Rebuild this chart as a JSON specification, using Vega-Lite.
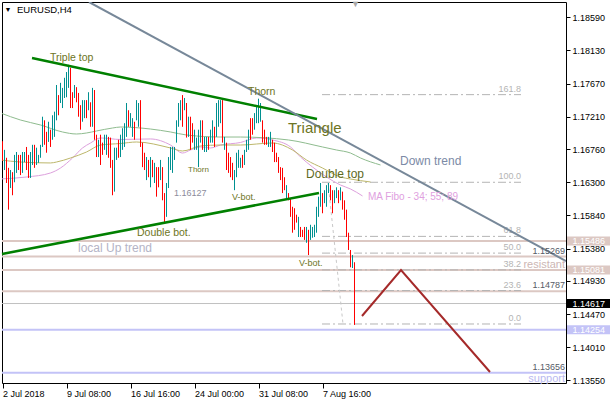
{
  "$schema": "https://vega.github.io/schema/vega-lite/v6.json",
  "autosize": "none",
  "padding": {"left": 2, "top": 2, "right": 44, "bottom": 17},
  "width": 564,
  "height": 381,
  "background": "white",
  "config": {
    "view": {"stroke": "#000000", "strokeWidth": 1},
    "text": {"font": "Liberation Sans"},
    "axis": {"labelFont": "Liberation Sans"}
  },
  "resolve": {
    "scale": {"color": "independent", "size": "independent"},
    "axis": {"x": "independent", "y": "independent"}
  },
  "datasets": {
    "candles": [
      {"i":0,"o":1.1685,"h":1.1687,"l":1.1660,"c":1.1662},
      {"i":1,"o":1.1655,"h":1.1675,"l":1.1647,"c":1.1670},
      {"i":2,"o":1.1662,"h":1.1664,"l":1.1629,"c":1.1635},
      {"i":3,"o":1.1640,"h":1.1650,"l":1.1592,"c":1.1612},
      {"i":4,"o":1.1625,"h":1.1647,"l":1.1622,"c":1.1640},
      {"i":5,"o":1.1640,"h":1.1644,"l":1.1612,"c":1.1620},
      {"i":6,"o":1.1632,"h":1.1668,"l":1.1630,"c":1.1660},
      {"i":7,"o":1.1650,"h":1.1672,"l":1.1643,"c":1.1668},
      {"i":8,"o":1.1665,"h":1.1668,"l":1.1647,"c":1.1650},
      {"i":9,"o":1.1664,"h":1.1668,"l":1.1640,"c":1.1645},
      {"i":10,"o":1.1647,"h":1.1672,"l":1.1643,"c":1.1670},
      {"i":11,"o":1.1660,"h":1.1672,"l":1.1658,"c":1.1670},
      {"i":12,"o":1.1675,"h":1.1679,"l":1.1647,"c":1.1650},
      {"i":13,"o":1.1660,"h":1.1668,"l":1.1636,"c":1.1640},
      {"i":14,"o":1.1640,"h":1.1672,"l":1.1636,"c":1.1668},
      {"i":15,"o":1.1660,"h":1.1682,"l":1.1654,"c":1.1678},
      {"i":16,"o":1.1678,"h":1.1682,"l":1.1650,"c":1.1655},
      {"i":17,"o":1.1656,"h":1.1678,"l":1.1654,"c":1.1675},
      {"i":18,"o":1.1658,"h":1.1668,"l":1.1657,"c":1.1667},
      {"i":19,"o":1.1665,"h":1.1682,"l":1.1664,"c":1.1680},
      {"i":20,"o":1.1680,"h":1.1721,"l":1.1679,"c":1.1715},
      {"i":21,"o":1.1712,"h":1.1716,"l":1.1682,"c":1.1688},
      {"i":22,"o":1.1695,"h":1.1700,"l":1.1671,"c":1.1675},
      {"i":23,"o":1.1688,"h":1.1714,"l":1.1686,"c":1.1710},
      {"i":24,"o":1.1700,"h":1.1703,"l":1.1679,"c":1.1685},
      {"i":25,"o":1.1690,"h":1.1723,"l":1.1689,"c":1.1720},
      {"i":26,"o":1.1700,"h":1.1728,"l":1.1693,"c":1.1725},
      {"i":27,"o":1.1720,"h":1.1765,"l":1.1716,"c":1.1760},
      {"i":28,"o":1.1748,"h":1.1751,"l":1.1723,"c":1.1728},
      {"i":29,"o":1.1742,"h":1.1768,"l":1.1740,"c":1.1765},
      {"i":30,"o":1.1740,"h":1.1761,"l":1.1733,"c":1.1758},
      {"i":31,"o":1.1750,"h":1.1775,"l":1.1747,"c":1.1772},
      {"i":32,"o":1.1752,"h":1.1783,"l":1.1748,"c":1.1780},
      {"i":33,"o":1.1765,"h":1.1793,"l":1.1761,"c":1.1788},
      {"i":34,"o":1.1786,"h":1.1789,"l":1.1733,"c":1.1738},
      {"i":35,"o":1.1752,"h":1.1755,"l":1.1733,"c":1.1736},
      {"i":36,"o":1.1748,"h":1.1765,"l":1.1747,"c":1.1762},
      {"i":37,"o":1.1760,"h":1.1762,"l":1.1741,"c":1.1744},
      {"i":38,"o":1.1750,"h":1.1754,"l":1.1721,"c":1.1725},
      {"i":39,"o":1.1733,"h":1.1737,"l":1.1703,"c":1.1706},
      {"i":40,"o":1.1716,"h":1.1744,"l":1.1714,"c":1.1740},
      {"i":41,"o":1.1722,"h":1.1744,"l":1.1719,"c":1.1740},
      {"i":42,"o":1.1740,"h":1.1744,"l":1.1719,"c":1.1722},
      {"i":43,"o":1.1732,"h":1.1755,"l":1.1730,"c":1.1752},
      {"i":44,"o":1.1738,"h":1.1741,"l":1.1707,"c":1.1710},
      {"i":45,"o":1.1710,"h":1.1761,"l":1.1707,"c":1.1756},
      {"i":46,"o":1.1755,"h":1.1758,"l":1.1689,"c":1.1692},
      {"i":47,"o":1.1693,"h":1.1696,"l":1.1665,"c":1.1668},
      {"i":48,"o":1.1667,"h":1.1689,"l":1.1665,"c":1.1686},
      {"i":49,"o":1.1690,"h":1.1696,"l":1.1654,"c":1.1658},
      {"i":50,"o":1.1682,"h":1.1685,"l":1.1668,"c":1.1670},
      {"i":51,"o":1.1677,"h":1.1696,"l":1.1675,"c":1.1693},
      {"i":52,"o":1.1670,"h":1.1696,"l":1.1668,"c":1.1692},
      {"i":53,"o":1.1690,"h":1.1693,"l":1.1664,"c":1.1667},
      {"i":54,"o":1.1688,"h":1.1692,"l":1.1650,"c":1.1653},
      {"i":55,"o":1.1655,"h":1.1661,"l":1.1612,"c":1.1616},
      {"i":56,"o":1.1620,"h":1.1678,"l":1.1617,"c":1.1672},
      {"i":57,"o":1.1663,"h":1.1678,"l":1.1661,"c":1.1675},
      {"i":58,"o":1.1685,"h":1.1689,"l":1.1664,"c":1.1667},
      {"i":59,"o":1.1667,"h":1.1696,"l":1.1665,"c":1.1692},
      {"i":60,"o":1.1678,"h":1.1705,"l":1.1675,"c":1.1702},
      {"i":61,"o":1.1682,"h":1.1712,"l":1.1679,"c":1.1708},
      {"i":62,"o":1.1695,"h":1.1740,"l":1.1693,"c":1.1735},
      {"i":63,"o":1.1728,"h":1.1730,"l":1.1707,"c":1.1710},
      {"i":64,"o":1.1709,"h":1.1726,"l":1.1707,"c":1.1723},
      {"i":65,"o":1.1696,"h":1.1719,"l":1.1693,"c":1.1716},
      {"i":66,"o":1.1712,"h":1.1714,"l":1.1689,"c":1.1692},
      {"i":67,"o":1.1718,"h":1.1744,"l":1.1716,"c":1.1740},
      {"i":68,"o":1.1710,"h":1.1740,"l":1.1707,"c":1.1736},
      {"i":69,"o":1.1740,"h":1.1744,"l":1.1679,"c":1.1684},
      {"i":70,"o":1.1682,"h":1.1685,"l":1.1651,"c":1.1655},
      {"i":71,"o":1.1668,"h":1.1671,"l":1.1647,"c":1.1650},
      {"i":72,"o":1.1636,"h":1.1665,"l":1.1633,"c":1.1662},
      {"i":73,"o":1.1658,"h":1.1661,"l":1.1637,"c":1.1640},
      {"i":74,"o":1.1626,"h":1.1665,"l":1.1623,"c":1.1662},
      {"i":75,"o":1.1658,"h":1.1661,"l":1.1637,"c":1.1640},
      {"i":76,"o":1.1632,"h":1.1657,"l":1.1629,"c":1.1654},
      {"i":77,"o":1.1648,"h":1.1651,"l":1.1610,"c":1.1614},
      {"i":78,"o":1.1648,"h":1.1651,"l":1.1623,"c":1.1627},
      {"i":79,"o":1.1636,"h":1.1661,"l":1.1633,"c":1.1658},
      {"i":80,"o":1.1648,"h":1.1651,"l":1.1605,"c":1.1608},
      {"i":81,"o":1.1610,"h":1.1615,"l":1.1573,"c":1.1577},
      {"i":82,"o":1.1585,"h":1.1629,"l":1.1582,"c":1.1625},
      {"i":83,"o":1.1625,"h":1.1665,"l":1.1622,"c":1.1661},
      {"i":84,"o":1.1650,"h":1.1679,"l":1.1647,"c":1.1675},
      {"i":85,"o":1.1646,"h":1.1679,"l":1.1643,"c":1.1676},
      {"i":86,"o":1.1663,"h":1.1679,"l":1.1661,"c":1.1677},
      {"i":87,"o":1.1688,"h":1.1716,"l":1.1685,"c":1.1712},
      {"i":88,"o":1.1710,"h":1.1740,"l":1.1707,"c":1.1736},
      {"i":89,"o":1.1718,"h":1.1744,"l":1.1716,"c":1.1741},
      {"i":90,"o":1.1745,"h":1.1751,"l":1.1707,"c":1.1710},
      {"i":91,"o":1.1732,"h":1.1747,"l":1.1730,"c":1.1745},
      {"i":92,"o":1.1736,"h":1.1740,"l":1.1692,"c":1.1695},
      {"i":93,"o":1.1696,"h":1.1721,"l":1.1693,"c":1.1718},
      {"i":94,"o":1.1718,"h":1.1721,"l":1.1675,"c":1.1678},
      {"i":95,"o":1.1709,"h":1.1712,"l":1.1685,"c":1.1688},
      {"i":96,"o":1.1678,"h":1.1703,"l":1.1675,"c":1.1700},
      {"i":97,"o":1.1677,"h":1.1692,"l":1.1675,"c":1.1690},
      {"i":98,"o":1.1655,"h":1.1703,"l":1.1651,"c":1.1700},
      {"i":99,"o":1.1688,"h":1.1716,"l":1.1685,"c":1.1713},
      {"i":100,"o":1.1713,"h":1.1716,"l":1.1675,"c":1.1678},
      {"i":101,"o":1.1675,"h":1.1693,"l":1.1672,"c":1.1690},
      {"i":102,"o":1.1674,"h":1.1693,"l":1.1672,"c":1.1691},
      {"i":103,"o":1.1691,"h":1.1693,"l":1.1675,"c":1.1677},
      {"i":104,"o":1.1687,"h":1.1703,"l":1.1685,"c":1.1701},
      {"i":105,"o":1.1688,"h":1.1716,"l":1.1685,"c":1.1713},
      {"i":106,"o":1.1704,"h":1.1707,"l":1.1679,"c":1.1682},
      {"i":107,"o":1.1696,"h":1.1740,"l":1.1693,"c":1.1736},
      {"i":108,"o":1.1710,"h":1.1744,"l":1.1707,"c":1.1741},
      {"i":109,"o":1.1715,"h":1.1744,"l":1.1712,"c":1.1741},
      {"i":110,"o":1.1741,"h":1.1744,"l":1.1685,"c":1.1688},
      {"i":111,"o":1.1677,"h":1.1693,"l":1.1675,"c":1.1691},
      {"i":112,"o":1.1682,"h":1.1685,"l":1.1647,"c":1.1650},
      {"i":113,"o":1.1668,"h":1.1671,"l":1.1643,"c":1.1646},
      {"i":114,"o":1.1662,"h":1.1665,"l":1.1637,"c":1.1640},
      {"i":115,"o":1.1654,"h":1.1657,"l":1.1633,"c":1.1636},
      {"i":116,"o":1.1622,"h":1.1647,"l":1.1619,"c":1.1644},
      {"i":117,"o":1.1640,"h":1.1671,"l":1.1637,"c":1.1668},
      {"i":118,"o":1.1653,"h":1.1675,"l":1.1650,"c":1.1672},
      {"i":119,"o":1.1652,"h":1.1664,"l":1.1650,"c":1.1662},
      {"i":120,"o":1.1666,"h":1.1668,"l":1.1650,"c":1.1652},
      {"i":121,"o":1.1656,"h":1.1675,"l":1.1654,"c":1.1672},
      {"i":122,"o":1.1674,"h":1.1689,"l":1.1672,"c":1.1687},
      {"i":123,"o":1.1678,"h":1.1703,"l":1.1675,"c":1.1700},
      {"i":124,"o":1.1716,"h":1.1719,"l":1.1689,"c":1.1692},
      {"i":125,"o":1.1716,"h":1.1719,"l":1.1696,"c":1.1699},
      {"i":126,"o":1.1705,"h":1.1726,"l":1.1703,"c":1.1723},
      {"i":127,"o":1.1714,"h":1.1735,"l":1.1712,"c":1.1732},
      {"i":128,"o":1.1715,"h":1.1746,"l":1.1712,"c":1.1742},
      {"i":129,"o":1.1716,"h":1.1740,"l":1.1714,"c":1.1737},
      {"i":130,"o":1.1713,"h":1.1716,"l":1.1685,"c":1.1688},
      {"i":131,"o":1.1700,"h":1.1703,"l":1.1682,"c":1.1685},
      {"i":132,"o":1.1691,"h":1.1693,"l":1.1682,"c":1.1684},
      {"i":133,"o":1.1681,"h":1.1693,"l":1.1679,"c":1.1691},
      {"i":134,"o":1.1682,"h":1.1700,"l":1.1679,"c":1.1697},
      {"i":135,"o":1.1687,"h":1.1689,"l":1.1672,"c":1.1674},
      {"i":136,"o":1.1682,"h":1.1685,"l":1.1658,"c":1.1661},
      {"i":137,"o":1.1669,"h":1.1671,"l":1.1658,"c":1.1660},
      {"i":138,"o":1.1662,"h":1.1665,"l":1.1643,"c":1.1646},
      {"i":139,"o":1.1649,"h":1.1651,"l":1.1633,"c":1.1636},
      {"i":140,"o":1.1647,"h":1.1650,"l":1.1615,"c":1.1618},
      {"i":141,"o":1.1635,"h":1.1637,"l":1.1619,"c":1.1622},
      {"i":142,"o":1.1610,"h":1.1626,"l":1.1608,"c":1.1624},
      {"i":143,"o":1.1613,"h":1.1615,"l":1.1605,"c":1.1607},
      {"i":144,"o":1.1606,"h":1.1608,"l":1.1582,"c":1.1585},
      {"i":145,"o":1.1593,"h":1.1596,"l":1.1560,"c":1.1563},
      {"i":146,"o":1.1591,"h":1.1594,"l":1.1564,"c":1.1567},
      {"i":147,"o":1.1583,"h":1.1585,"l":1.1574,"c":1.1576},
      {"i":148,"o":1.1557,"h":1.1582,"l":1.1554,"c":1.1579},
      {"i":149,"o":1.1566,"h":1.1568,"l":1.1554,"c":1.1556},
      {"i":150,"o":1.1562,"h":1.1564,"l":1.1554,"c":1.1556},
      {"i":151,"o":1.1566,"h":1.1568,"l":1.1550,"c":1.1552},
      {"i":152,"o":1.1549,"h":1.1568,"l":1.1546,"c":1.1565},
      {"i":153,"o":1.1561,"h":1.1564,"l":1.1529,"c":1.1540},
      {"i":154,"o":1.1552,"h":1.1571,"l":1.1550,"c":1.1568},
      {"i":155,"o":1.1555,"h":1.1568,"l":1.1553,"c":1.1566},
      {"i":156,"o":1.1556,"h":1.1571,"l":1.1554,"c":1.1569},
      {"i":157,"o":1.1563,"h":1.1596,"l":1.1560,"c":1.1592},
      {"i":158,"o":1.1585,"h":1.1610,"l":1.1582,"c":1.1607},
      {"i":159,"o":1.1599,"h":1.1629,"l":1.1596,"c":1.1625},
      {"i":160,"o":1.1612,"h":1.1615,"l":1.1587,"c":1.1590},
      {"i":161,"o":1.1603,"h":1.1619,"l":1.1601,"c":1.1617},
      {"i":162,"o":1.1599,"h":1.1626,"l":1.1596,"c":1.1623},
      {"i":163,"o":1.1617,"h":1.1629,"l":1.1615,"c":1.1627},
      {"i":164,"o":1.1624,"h":1.1626,"l":1.1605,"c":1.1607},
      {"i":165,"o":1.1617,"h":1.1619,"l":1.1587,"c":1.1590},
      {"i":166,"o":1.1603,"h":1.1619,"l":1.1601,"c":1.1617},
      {"i":167,"o":1.1610,"h":1.1623,"l":1.1608,"c":1.1621},
      {"i":168,"o":1.1617,"h":1.1619,"l":1.1601,"c":1.1603},
      {"i":169,"o":1.1607,"h":1.1623,"l":1.1605,"c":1.1621},
      {"i":170,"o":1.1614,"h":1.1617,"l":1.1592,"c":1.1594},
      {"i":171,"o":1.1603,"h":1.1605,"l":1.1578,"c":1.1580},
      {"i":172,"o":1.1589,"h":1.1592,"l":1.1554,"c":1.1557},
      {"i":173,"o":1.1557,"h":1.1560,"l":1.1536,"c":1.1539},
      {"i":174,"o":1.1533,"h":1.1536,"l":1.1512,"c":1.1515},
      {"i":175,"o":1.1513,"h":1.1529,"l":1.1511,"c":1.1526},
      {"i":176,"o":1.1517,"h":1.1519,"l":1.1432,"c":1.14617}
    ],
    "ma": [
      {"ma":"34","i":-1,"p":1.16346},{"ma":"34","i":12,"p":1.16373},{"ma":"34","i":24,"p":1.16429},{"ma":"34","i":29,"p":1.16498},
      {"ma":"34","i":35,"p":1.16637},{"ma":"34","i":40,"p":1.16776},{"ma":"34","i":44,"p":1.16845},{"ma":"34","i":49,"p":1.16915},
      {"ma":"34","i":59,"p":1.16894},{"ma":"34","i":74,"p":1.16901},{"ma":"34","i":84,"p":1.16817},{"ma":"34","i":90,"p":1.16706},
      {"ma":"34","i":94,"p":1.16748},{"ma":"34","i":99,"p":1.16790},{"ma":"34","i":104,"p":1.16776},{"ma":"34","i":109,"p":1.16817},
      {"ma":"34","i":119,"p":1.16852},{"ma":"34","i":127,"p":1.16915},{"ma":"34","i":135,"p":1.16887},{"ma":"34","i":144,"p":1.16790},
      {"ma":"34","i":149,"p":1.16651},{"ma":"34","i":155,"p":1.16512},{"ma":"34","i":162,"p":1.16373},{"ma":"34","i":169,"p":1.16262},
      {"ma":"34","i":174,"p":1.16207},{"ma":"34","i":180,"p":1.16110},
      {"ma":"55","i":-1,"p":1.16609},{"ma":"55","i":9,"p":1.16581},{"ma":"55","i":24,"p":1.16568},{"ma":"55","i":27,"p":1.16581},
      {"ma":"55","i":34,"p":1.16637},{"ma":"55","i":42,"p":1.16720},{"ma":"55","i":49,"p":1.16817},{"ma":"55","i":59,"p":1.16838},
      {"ma":"55","i":67,"p":1.16859},{"ma":"55","i":84,"p":1.16776},{"ma":"55","i":90,"p":1.16734},{"ma":"55","i":99,"p":1.16804},
      {"ma":"55","i":109,"p":1.16817},{"ma":"55","i":119,"p":1.16817},{"ma":"55","i":135,"p":1.16845},{"ma":"55","i":145,"p":1.16748},
      {"ma":"55","i":152,"p":1.16609},{"ma":"55","i":160,"p":1.16498},{"ma":"55","i":169,"p":1.16373},{"ma":"55","i":174,"p":1.16345},
      {"ma":"55","i":184,"p":1.16304},
      {"ma":"89","i":-1,"p":1.17262},{"ma":"89","i":9,"p":1.17164},{"ma":"89","i":19,"p":1.17095},{"ma":"89","i":30,"p":1.16998},
      {"ma":"89","i":37,"p":1.16970},{"ma":"89","i":42,"p":1.16984},{"ma":"89","i":47,"p":1.17012},{"ma":"89","i":55,"p":1.17053},
      {"ma":"89","i":59,"p":1.17067},{"ma":"89","i":74,"p":1.17039},{"ma":"89","i":84,"p":1.16998},{"ma":"89","i":92,"p":1.16956},
      {"ma":"89","i":109,"p":1.16928},{"ma":"89","i":119,"p":1.16928},{"ma":"89","i":143,"p":1.16887},{"ma":"89","i":160,"p":1.16790},
      {"ma":"89","i":167,"p":1.16748},{"ma":"89","i":174,"p":1.16706},{"ma":"89","i":179,"p":1.16637},{"ma":"89","i":189,"p":1.16540}
    ],
    "triangle": [
      {"id":"top","i":14.75,"p":1.18025},{"id":"top","i":157.25,"p":1.17178},
      {"id":"bottom","i":-0.25,"p":1.15305},{"id":"bottom","i":158.25,"p":1.16151}
    ],
    "downtrend": [{"i":43.25,"p":1.18802},{"i":281.75,"p":1.15207}],
    "zigzag": [{"i":179.75,"p":1.14444},{"i":199.25,"p":1.15082},{"i":243.75,"p":1.13667}],
    "fibdiag": [{"i":162.75,"p":1.163},{"i":170.25,"p":1.14333}],
    "fib": [
      {"lv":"161.8","p":1.17516},{"lv":"100.0","p":1.163},{"lv":"61.8","p":1.15549},{"lv":"50.0","p":1.15317},
      {"lv":"38.2","p":1.15084},{"lv":"23.6","p":1.14797},{"lv":"0.0","p":1.14333}
    ],
    "resLines": [{"p":1.15486},{"p":1.15269},{"p":1.15081},{"p":1.14787}],
    "supLines": [{"p":1.14254},{"p":1.13656}],
    "bid": [{"p":1.14617}],
    "tags": [
      {"p":1.15486,"t":"1.15486","kind":"res"},
      {"p":1.15081,"t":"1.15081","kind":"res"},
      {"p":1.14617,"t":"1.14617","kind":"bid"},
      {"p":1.14254,"t":"1.14254","kind":"sup"}
    ],
    "lineValues": [{"p":1.15269,"t":"1.15269"},{"p":1.14787,"t":"1.14787"},{"p":1.13656,"t":"1.13656"}],
    "notesMid": [
      {"i":23.75,"p":1.18025,"t":"Triple top"},
      {"i":122.75,"p":1.17553,"t":"Thorn"},
      {"i":67.25,"p":1.15596,"t":"Double bot."}
    ],
    "notesSmall": [
      {"i":114.75,"p":1.16096,"t":"V-bot."},
      {"i":148.25,"p":1.1518,"t":"V-bot."}
    ]
  },
  "layer": [
    {
      "data": {"name": "resLines"},
      "mark": {"type": "rule", "color": "#dcc8c3", "strokeWidth": 2},
      "encoding": {"y": {"field": "p", "type": "quantitative", "scale": {"domain": [1.13514, 1.18802], "nice": false, "zero": false}, "axis": null}}
    },
    {
      "data": {"name": "supLines"},
      "mark": {"type": "rule", "color": "#c3c3f7", "strokeWidth": 2},
      "encoding": {"y": {"field": "p", "type": "quantitative", "scale": {"domain": [1.13514, 1.18802], "nice": false, "zero": false}, "axis": null}}
    },
    {
      "data": {"name": "bid"},
      "mark": {"type": "rule", "color": "#c0c0c0", "strokeWidth": 1},
      "encoding": {"y": {"field": "p", "type": "quantitative", "scale": {"domain": [1.13514, 1.18802], "nice": false, "zero": false}, "axis": null}}
    },
    {
      "data": {"name": "fib"},
      "mark": {"type": "rule", "color": "#b4b4b4", "strokeWidth": 1, "strokeDash": [8, 3, 2, 3]},
      "encoding": {
        "x": {"datum": 159.75, "type": "quantitative", "scale": {"domain": [-0.25, 281.75], "nice": false, "zero": false}, "axis": null},
        "x2": {"datum": 259.25},
        "y": {"field": "p", "type": "quantitative", "scale": {"domain": [1.13514, 1.18802], "nice": false, "zero": false}, "axis": null}
      }
    },
    {
      "data": {"name": "fib"},
      "mark": {"type": "text", "color": "#b4b4b4", "fontSize": 9, "align": "right", "baseline": "bottom", "dy": -1},
      "encoding": {
        "x": {"datum": 259.25, "type": "quantitative", "scale": {"domain": [-0.25, 281.75], "nice": false, "zero": false}, "axis": null},
        "y": {"field": "p", "type": "quantitative", "scale": {"domain": [1.13514, 1.18802], "nice": false, "zero": false}, "axis": null},
        "text": {"field": "lv"}
      }
    },
    {
      "data": {"name": "fibdiag"},
      "mark": {"type": "line", "color": "#c8c8c8", "strokeWidth": 1, "strokeDash": [3, 3]},
      "encoding": {
        "x": {"field": "i", "type": "quantitative", "scale": {"domain": [-0.25, 281.75], "nice": false, "zero": false}, "axis": null},
        "y": {"field": "p", "type": "quantitative", "scale": {"domain": [1.13514, 1.18802], "nice": false, "zero": false}, "axis": null}
      }
    },
    {
      "data": {"name": "ma"},
      "mark": {"type": "line", "strokeWidth": 1, "interpolate": "monotone", "clip": true},
      "encoding": {
        "x": {"field": "i", "type": "quantitative", "scale": {"domain": [-0.25, 281.75], "nice": false, "zero": false}, "axis": null},
        "y": {"field": "p", "type": "quantitative", "scale": {"domain": [1.13514, 1.18802], "nice": false, "zero": false}, "axis": null},
        "color": {"field": "ma", "type": "nominal", "scale": {"domain": ["34", "55", "89"], "range": ["#dda0dd", "#bdb76b", "#8fbc8f"]}, "legend": null}
      }
    },
    {
      "data": {"name": "candles"},
      "mark": {"type": "rule", "strokeWidth": 1},
      "encoding": {
        "x": {
          "field": "i", "type": "quantitative",
          "scale": {"domain": [-0.25, 281.75], "nice": false, "zero": false},
          "axis": {
            "values": [0, 32, 64, 96, 128, 160],
            "labelExpr": "datum.value == 0 ? '2 Jul 2018' : datum.value == 32 ? '9 Jul 08:00' : datum.value == 64 ? '16 Jul 16:00' : datum.value == 96 ? '24 Jul 00:00' : datum.value == 128 ? '31 Jul 08:00' : '7 Aug 16:00'",
            "labelAlign": "left", "labelBaseline": "top", "labelPadding": 1, "labelDx": 0,
            "labelFontSize": 9, "labelColor": "#000000", "labelFlush": false, "labelOverlap": false,
            "tickSize": 5, "tickColor": "#000000", "domain": false, "grid": false, "title": null
          }
        },
        "y": {
          "field": "l", "type": "quantitative",
          "scale": {"domain": [1.13514, 1.18802], "nice": false, "zero": false},
          "axis": {
            "orient": "right",
            "values": [1.1859, 1.1813, 1.1767, 1.1721, 1.1676, 1.163, 1.1584, 1.1538, 1.1493, 1.1447, 1.1401, 1.1355],
            "format": ".5f", "labelFontSize": 9, "labelColor": "#000000", "labelPadding": 2,
            "tickSize": 4, "tickColor": "#000000", "domain": false, "grid": false, "title": null,
            "labelOverlap": false, "labelFlush": false
          }
        },
        "y2": {"field": "h"},
        "color": {"condition": {"test": "datum.c >= datum.o", "value": "#009090"}, "value": "#ff0000"}
      }
    },
    {
      "data": {"name": "triangle"},
      "mark": {"type": "line", "color": "#008000", "strokeWidth": 2.5},
      "encoding": {
        "x": {"field": "i", "type": "quantitative", "scale": {"domain": [-0.25, 281.75], "nice": false, "zero": false}, "axis": null},
        "y": {"field": "p", "type": "quantitative", "scale": {"domain": [1.13514, 1.18802], "nice": false, "zero": false}, "axis": null},
        "detail": {"field": "id"}
      }
    },
    {
      "data": {"name": "downtrend"},
      "mark": {"type": "line", "color": "#778899", "strokeWidth": 2, "clip": true},
      "encoding": {
        "x": {"field": "i", "type": "quantitative", "scale": {"domain": [-0.25, 281.75], "nice": false, "zero": false}, "axis": null},
        "y": {"field": "p", "type": "quantitative", "scale": {"domain": [1.13514, 1.18802], "nice": false, "zero": false}, "axis": null}
      }
    },
    {
      "data": {"name": "zigzag"},
      "mark": {"type": "line", "color": "#a52a2a", "strokeWidth": 2},
      "encoding": {
        "x": {"field": "i", "type": "quantitative", "scale": {"domain": [-0.25, 281.75], "nice": false, "zero": false}, "axis": null},
        "y": {"field": "p", "type": "quantitative", "scale": {"domain": [1.13514, 1.18802], "nice": false, "zero": false}, "axis": null}
      }
    },
    {
      "data": {"name": "lineValues"},
      "mark": {"type": "text", "color": "#555a66", "fontSize": 9, "align": "right", "baseline": "bottom", "dy": -1},
      "encoding": {
        "x": {"datum": 281.25, "type": "quantitative", "scale": {"domain": [-0.25, 281.75], "nice": false, "zero": false}, "axis": null},
        "y": {"field": "p", "type": "quantitative", "scale": {"domain": [1.13514, 1.18802], "nice": false, "zero": false}, "axis": null},
        "text": {"field": "t"}
      }
    },
    {
      "data": {"values": [{"p": 1.15081, "t": "resistant"}]},
      "mark": {"type": "text", "color": "#cdb6b3", "fontSize": 11, "align": "right", "baseline": "bottom", "dy": 0},
      "encoding": {
        "x": {"datum": 281.25, "type": "quantitative", "scale": {"domain": [-0.25, 281.75], "nice": false, "zero": false}, "axis": null},
        "y": {"field": "p", "type": "quantitative", "scale": {"domain": [1.13514, 1.18802], "nice": false, "zero": false}, "axis": null},
        "text": {"field": "t"}
      }
    },
    {
      "data": {"values": [{"p": 1.13656, "t": "support"}]},
      "mark": {"type": "text", "color": "#b9b9f0", "fontSize": 11, "align": "right", "baseline": "top", "dy": 0, "clip": false},
      "encoding": {
        "x": {"datum": 281.25, "type": "quantitative", "scale": {"domain": [-0.25, 281.75], "nice": false, "zero": false}, "axis": null},
        "y": {"field": "p", "type": "quantitative", "scale": {"domain": [1.13514, 1.18802], "nice": false, "zero": false}, "axis": null},
        "text": {"field": "t"}
      }
    },
    {
      "data": {"name": "tags"},
      "mark": {"type": "rule", "strokeWidth": 9, "strokeCap": "butt", "clip": false},
      "encoding": {
        "x": {"datum": 282.25, "type": "quantitative", "scale": {"domain": [-0.25, 281.75], "nice": false, "zero": false}, "axis": null},
        "x2": {"datum": 303.75},
        "y": {"field": "p", "type": "quantitative", "scale": {"domain": [1.13514, 1.18802], "nice": false, "zero": false}, "axis": null},
        "color": {"field": "kind", "type": "nominal", "scale": {"domain": ["res", "bid", "sup"], "range": ["#dcc8c3", "#000000", "#c3c3f7"]}, "legend": null}
      }
    },
    {
      "data": {"name": "tags"},
      "mark": {"type": "text", "color": "#ffffff", "fontSize": 9, "align": "left", "baseline": "middle", "clip": false},
      "encoding": {
        "x": {"datum": 285, "type": "quantitative", "scale": {"domain": [-0.25, 281.75], "nice": false, "zero": false}, "axis": null},
        "y": {"field": "p", "type": "quantitative", "scale": {"domain": [1.13514, 1.18802], "nice": false, "zero": false}, "axis": null},
        "text": {"field": "t"}
      }
    },
    {
      "data": {"name": "notesMid"},
      "mark": {"type": "text", "color": "#6e7524", "fontSize": 10.5, "align": "left", "baseline": "middle"},
      "encoding": {
        "x": {"field": "i", "type": "quantitative", "scale": {"domain": [-0.25, 281.75], "nice": false, "zero": false}, "axis": null},
        "y": {"field": "p", "type": "quantitative", "scale": {"domain": [1.13514, 1.18802], "nice": false, "zero": false}, "axis": null},
        "text": {"field": "t"}
      }
    },
    {
      "data": {"name": "notesSmall"},
      "mark": {"type": "text", "color": "#6e7524", "fontSize": 9, "align": "left", "baseline": "middle"},
      "encoding": {
        "x": {"field": "i", "type": "quantitative", "scale": {"domain": [-0.25, 281.75], "nice": false, "zero": false}, "axis": null},
        "y": {"field": "p", "type": "quantitative", "scale": {"domain": [1.13514, 1.18802], "nice": false, "zero": false}, "axis": null},
        "text": {"field": "t"}
      }
    },
    {
      "data": {"values": [{"i": 92.75, "p": 1.1647, "t": "Thorn"}]},
      "mark": {"type": "text", "color": "#6e7524", "fontSize": 8, "align": "left", "baseline": "middle"},
      "encoding": {
        "x": {"field": "i", "type": "quantitative", "scale": {"domain": [-0.25, 281.75], "nice": false, "zero": false}, "axis": null},
        "y": {"field": "p", "type": "quantitative", "scale": {"domain": [1.13514, 1.18802], "nice": false, "zero": false}, "axis": null},
        "text": {"field": "t"}
      }
    },
    {
      "data": {"values": [{"i": 151.75, "p": 1.16415, "t": "Double top"}]},
      "mark": {"type": "text", "color": "#5e6a1e", "fontSize": 12, "align": "left", "baseline": "middle"},
      "encoding": {
        "x": {"field": "i", "type": "quantitative", "scale": {"domain": [-0.25, 281.75], "nice": false, "zero": false}, "axis": null},
        "y": {"field": "p", "type": "quantitative", "scale": {"domain": [1.13514, 1.18802], "nice": false, "zero": false}, "axis": null},
        "text": {"field": "t"}
      }
    },
    {
      "data": {"values": [{"i": 142.75, "p": 1.17053, "t": "Triangle"}]},
      "mark": {"type": "text", "color": "#6e7524", "fontSize": 15, "align": "left", "baseline": "middle"},
      "encoding": {
        "x": {"field": "i", "type": "quantitative", "scale": {"domain": [-0.25, 281.75], "nice": false, "zero": false}, "axis": null},
        "y": {"field": "p", "type": "quantitative", "scale": {"domain": [1.13514, 1.18802], "nice": false, "zero": false}, "axis": null},
        "text": {"field": "t"}
      }
    },
    {
      "data": {"values": [{"i": 37.75, "p": 1.15388, "t": "local Up trend"}]},
      "mark": {"type": "text", "color": "#b4b4c6", "fontSize": 12, "align": "left", "baseline": "middle"},
      "encoding": {
        "x": {"field": "i", "type": "quantitative", "scale": {"domain": [-0.25, 281.75], "nice": false, "zero": false}, "axis": null},
        "y": {"field": "p", "type": "quantitative", "scale": {"domain": [1.13514, 1.18802], "nice": false, "zero": false}, "axis": null},
        "text": {"field": "t"}
      }
    },
    {
      "data": {"values": [{"i": 198.75, "p": 1.16595, "t": "Down trend"}]},
      "mark": {"type": "text", "color": "#7c8aa6", "fontSize": 12, "align": "left", "baseline": "middle"},
      "encoding": {
        "x": {"field": "i", "type": "quantitative", "scale": {"domain": [-0.25, 281.75], "nice": false, "zero": false}, "axis": null},
        "y": {"field": "p", "type": "quantitative", "scale": {"domain": [1.13514, 1.18802], "nice": false, "zero": false}, "axis": null},
        "text": {"field": "t"}
      }
    },
    {
      "data": {"values": [{"i": 182.75, "p": 1.16096, "t": "MA Fibo - 34; 55; 89"}]},
      "mark": {"type": "text", "color": "#e0a0e0", "fontSize": 10, "align": "left", "baseline": "middle"},
      "encoding": {
        "x": {"field": "i", "type": "quantitative", "scale": {"domain": [-0.25, 281.75], "nice": false, "zero": false}, "axis": null},
        "y": {"field": "p", "type": "quantitative", "scale": {"domain": [1.13514, 1.18802], "nice": false, "zero": false}, "axis": null},
        "text": {"field": "t"}
      }
    },
    {
      "data": {"values": [{"i": 85.75, "p": 1.16151, "t": "1.16127"}]},
      "mark": {"type": "text", "color": "#8c8c9c", "fontSize": 9, "align": "left", "baseline": "middle"},
      "encoding": {
        "x": {"field": "i", "type": "quantitative", "scale": {"domain": [-0.25, 281.75], "nice": false, "zero": false}, "axis": null},
        "y": {"field": "p", "type": "quantitative", "scale": {"domain": [1.13514, 1.18802], "nice": false, "zero": false}, "axis": null},
        "text": {"field": "t"}
      }
    },
    {
      "data": {"values": [{"i": 7.25, "p": 1.18691, "t": "EURUSD,H4"}]},
      "mark": {"type": "text", "color": "#000000", "fontSize": 9.5, "align": "left", "baseline": "middle"},
      "encoding": {
        "x": {"field": "i", "type": "quantitative", "scale": {"domain": [-0.25, 281.75], "nice": false, "zero": false}, "axis": null},
        "y": {"field": "p", "type": "quantitative", "scale": {"domain": [1.13514, 1.18802], "nice": false, "zero": false}, "axis": null},
        "text": {"field": "t"}
      }
    },
    {
      "data": {"values": [{"i": 2.75, "p": 1.18691}]},
      "mark": {"type": "text", "text": "▼", "color": "#000000", "fontSize": 7, "align": "center", "baseline": "middle"},
      "encoding": {
        "x": {"field": "i", "type": "quantitative", "scale": {"domain": [-0.25, 281.75], "nice": false, "zero": false}, "axis": null},
        "y": {"field": "p", "type": "quantitative", "scale": {"domain": [1.13514, 1.18802], "nice": false, "zero": false}, "axis": null}
      }
    },
    {
      "data": {"values": [{"i": 176.5, "p": 1.18774}]},
      "mark": {"type": "text", "text": "▼", "color": "#a8a8a8", "fontSize": 9, "align": "center", "baseline": "middle"},
      "encoding": {
        "x": {"field": "i", "type": "quantitative", "scale": {"domain": [-0.25, 281.75], "nice": false, "zero": false}, "axis": null},
        "y": {"field": "p", "type": "quantitative", "scale": {"domain": [1.13514, 1.18802], "nice": false, "zero": false}, "axis": null}
      }
    }
  ]
}
